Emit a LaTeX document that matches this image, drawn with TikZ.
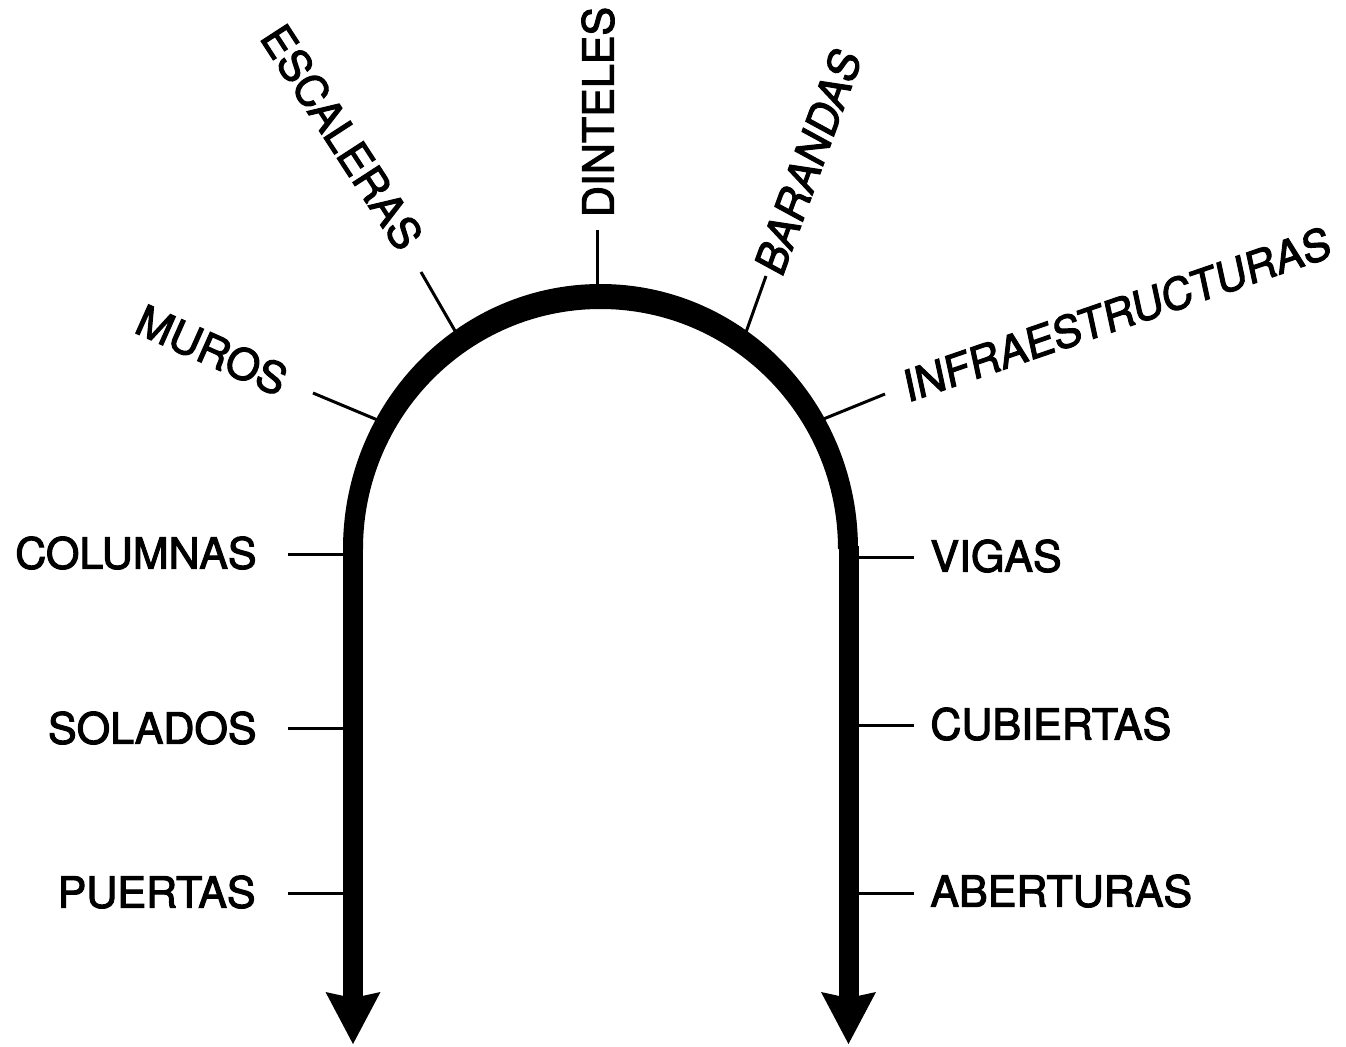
\documentclass[tikz,border=0pt]{standalone}
\usepackage{fontspec}
\setmainfont{TeX Gyre Heros}
\newfontfamily\lblfont[FakeBold=2.5]{TeX Gyre Heros}
\usetikzlibrary{arrows.meta}
\begin{document}
\begin{tikzpicture}[x=0.5pt,y=-0.5pt,
  lbl/.style={inner sep=0pt, font=\lblfont\fontsize{21.5}{26}\selectfont},
  tickline/.style={line width=1.5pt},
  shaft/.style={line width=10pt, -{Stealth[length=26pt,width=27.5pt,inset=3pt,line width=0pt]}}]
\useasboundingbox (0,0) rectangle (1346,1046);
\fill[white] (0,0) rectangle (1346,1046);

% labels
\node[lbl, anchor=east] (columnas) at (257,553) {COLUMNAS};
\node[lbl, anchor=east] (solados) at (257,728) {SOLADOS};
\node[lbl, anchor=east] (puertas) at (256,892) {PUERTAS};
\node[lbl, anchor=west] (vigas) at (930,556) {VIGAS};
\node[lbl, anchor=west] (cubiertas) at (930,724) {CUBIERTAS};
\node[lbl, anchor=west] (aberturas) at (930,891) {ABERTURAS};
\node[lbl, rotate=-24] (muros) at (212,350) {MUROS};
\node[lbl, rotate=-57] (escaleras) at (342,137) {ESCALERAS};
\node[lbl, rotate=90] (dinteles) at (598,112) {DINTELES};
\node[lbl, rotate=70, xslant=0.15] (barandas) at (808,161) {BARANDAS};
\node[lbl, rotate=19, xslant=0.12] (infra) at (1117,314) {INFRAESTRUCTURAS};

% tick coordinates
\coordinate (tCo1) at (288,554);  \coordinate (tCo2) at (350,554);
\coordinate (tSo1) at (288,728);  \coordinate (tSo2) at (350,728);
\coordinate (tPu1) at (288,893);  \coordinate (tPu2) at (350,893);
\coordinate (tVi1) at (914,557);  \coordinate (tVi2) at (852,557);
\coordinate (tCu1) at (914,725);  \coordinate (tCu2) at (852,725);
\coordinate (tAb1) at (914,893);  \coordinate (tAb2) at (852,893);
\coordinate (tMu1) at (313,393);  \coordinate (tMu2) at (380,421);
\coordinate (tEs1) at (421,272);  \coordinate (tEs2) at (458,336);
\coordinate (tDi1) at (597,230);  \coordinate (tDi2) at (597,290);
\coordinate (tBa1) at (766,276);  \coordinate (tBa2) at (745,335);
\coordinate (tIn1) at (885,394);  \coordinate (tIn2) at (821,420);

\foreach \t in {Co,So,Pu,Vi,Cu,Ab,Mu,Es,Di,Ba,In}
  \draw[tickline] (t\t1) -- (t\t2);

% arch
\coordinate (lstart) at (353,546);
\coordinate (lend) at (353,1044);
\coordinate (rstart) at (848.5,546);
\coordinate (rend) at (848.5,1044);
\fill (343,549) arc[start angle=180, end angle=360, x radius=257.5, y radius=265]
  -- (838,549) arc[start angle=360, end angle=180, x radius=237.5, y radius=240] -- cycle;
\draw[shaft] (lstart) -- (lend);
\draw[shaft] (rstart) -- (rend);
\end{tikzpicture}
\end{document}
